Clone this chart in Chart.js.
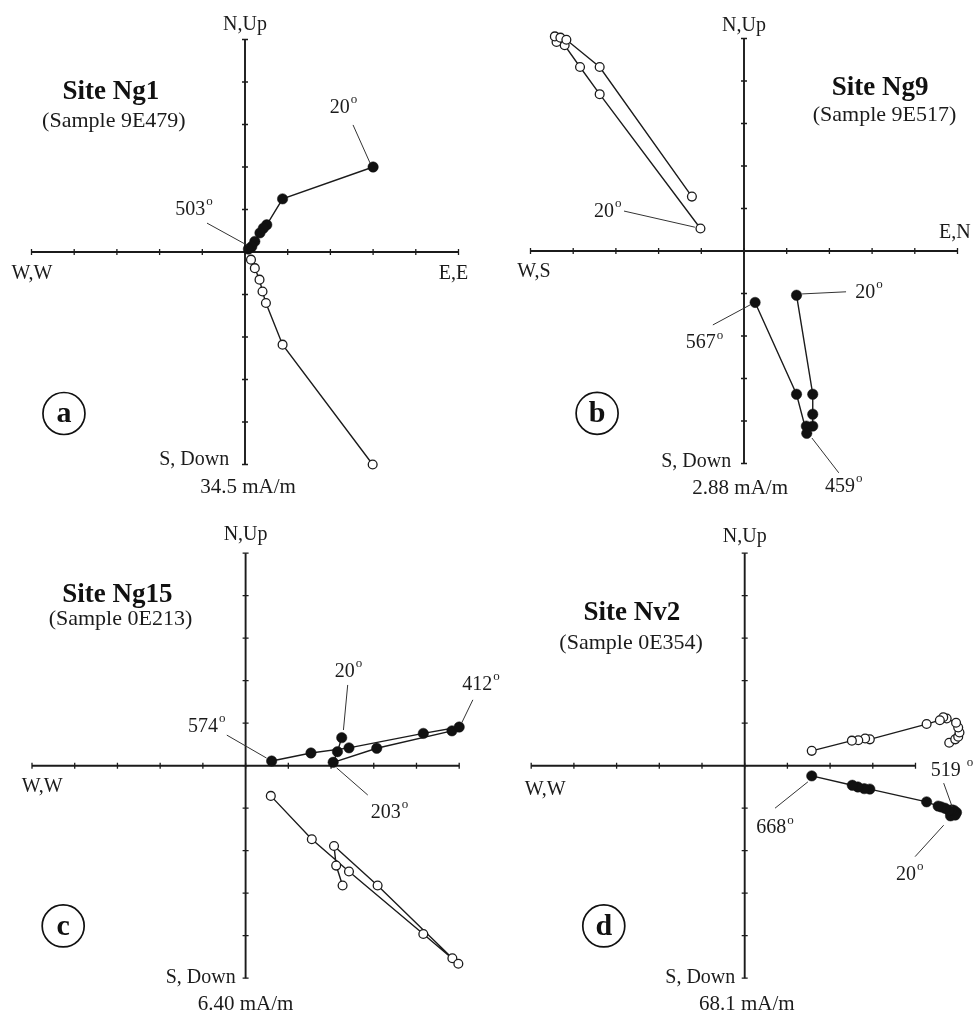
<!DOCTYPE html>
<html>
<head>
<meta charset="utf-8">
<script src="https://cdn.jsdelivr.net/npm/chart.js@4/dist/chart.umd.min.js"></script>
<style>
  body { margin: 0; background: #fff; }
  #wrap { position: relative; width: 974px; height: 1013px; }
  canvas { position: absolute; left: 0; top: 0; }
</style>
</head>
<body>
<div id="wrap">
  <canvas id="chartA" width="974" height="1013"></canvas>
  <canvas id="chartB" width="974" height="1013"></canvas>
  <canvas id="chartC" width="974" height="1013"></canvas>
  <canvas id="chartD" width="974" height="1013"></canvas>
</div>
<script>
// values in axis-tick units (one tick = the mA/m value printed under each plot)
// filled = horizontal projection, open = vertical projection

// a) Site Ng1
const ng1Horizontal = [[3.0, 2.0], [0.88, 1.25], [0.51, 0.64], [0.43, 0.56], [0.35, 0.45], [0.23, 0.25], [0.16, 0.13], [0.08, 0.07]];
const ng1Vertical = [[2.99, -5.0], [0.88, -2.18], [0.49, -1.2], [0.41, -0.93], [0.34, -0.65], [0.23, -0.38], [0.14, -0.18]];

// b) Site Ng9
const ng9Horizontal = [[1.23, -1.04], [1.61, -3.37], [1.61, -3.84], [1.61, -4.12], [1.46, -4.12], [1.47, -4.29], [1.23, -3.37], [0.26, -1.21]];
const ng9Vertical = [[-1.02, 0.53], [-3.38, 3.69], [-3.84, 4.33], [-4.2, 4.84], [-4.39, 4.92], [-4.43, 5.05], [-4.3, 5.02], [-4.16, 4.97], [-3.38, 4.33], [-1.22, 1.28]];

// c) Site Ng15
const ng15Horizontal = [[2.25, 0.66], [2.15, 0.33], [2.05, 0.08], [3.07, 0.41], [4.83, 0.82], [5.0, 0.91], [4.16, 0.76], [2.42, 0.42], [1.53, 0.30], [0.61, 0.11]];
const ng15Vertical = [[2.27, -2.82], [2.12, -2.35], [2.07, -1.89], [3.09, -2.82], [4.84, -4.53], [4.98, -4.66], [4.16, -3.96], [2.42, -2.49], [1.55, -1.73], [0.59, -0.71]];

// d) Site Nv2
const nv2Horizontal = [[4.82, -1.18], [4.93, -1.16], [4.96, -1.1], [4.9, -1.05], [4.85, -1.04], [4.78, -1.05], [4.69, -1.0], [4.6, -0.97], [4.53, -0.95], [4.26, -0.85], [2.93, -0.55], [2.8, -0.54], [2.65, -0.5], [2.52, -0.46], [1.57, -0.24]];
const nv2Vertical = [[4.79, 0.54], [4.93, 0.62], [5.0, 0.68], [5.03, 0.78], [5.0, 0.9], [4.95, 1.01], [4.73, 1.11], [4.65, 1.14], [4.57, 1.07], [4.26, 0.98], [2.93, 0.62], [2.82, 0.64], [2.66, 0.6], [2.51, 0.59], [1.57, 0.35]];

const ink = '#1b1b1b';
const serif = '"Liberation Serif", "DejaVu Serif", serif';

function toPt(arr) {
  return arr.map(p => ({ x: p[0], y: p[1] }));
}

function degLabel(ctx, x, y, num, gap) {
  ctx.font = '20px ' + serif;
  ctx.textAlign = 'center';
  ctx.textBaseline = 'middle';
  const w = ctx.measureText(num).width;
  ctx.fillText(num, x, y);
  ctx.font = '13px ' + serif;
  ctx.textAlign = 'left';
  ctx.fillText('o', x + w / 2 + 1 + (gap || 0), y - 8);
}

// draws the cross axes, labels, leader lines
const zijderveld = {
  id: 'zijderveld',
  beforeDatasetsDraw(chart, args, o) {
    const ctx = chart.ctx;
    const px = v => chart.scales.x.getPixelForValue(v);
    const py = v => chart.scales.y.getPixelForValue(v);
    const e = o.ext;
    ctx.save();
    ctx.strokeStyle = ink;
    ctx.lineWidth = 1.9;
    ctx.beginPath();
    ctx.moveTo(px(e[0]), py(0)); ctx.lineTo(px(e[1]), py(0));
    ctx.moveTo(px(0), py(e[2])); ctx.lineTo(px(0), py(e[3]));
    ctx.stroke();
    ctx.lineWidth = 1.3;
    ctx.beginPath();
    for (let i = e[0]; i <= e[1]; i++) {
      ctx.moveTo(px(i), py(0) - 3); ctx.lineTo(px(i), py(0) + 3);
    }
    for (let j = e[2]; j <= e[3]; j++) {
      ctx.moveTo(px(0) - 3, py(j)); ctx.lineTo(px(0) + 3, py(j));
    }
    ctx.stroke();
    ctx.restore();
  },
  afterDatasetsDraw(chart, args, o) {
    const ctx = chart.ctx;
    const px = v => chart.scales.x.getPixelForValue(v);
    const py = v => chart.scales.y.getPixelForValue(v);
    ctx.save();
    ctx.fillStyle = ink;
    ctx.textAlign = 'center';
    ctx.textBaseline = 'middle';

    ctx.font = '20px ' + serif;
    o.axisText.forEach(t => ctx.fillText(t[0], px(t[1]), py(t[2])));
    ctx.font = '21px ' + serif;
    ctx.fillText(o.unit[0], px(o.unit[1]), py(o.unit[2]));

    ctx.font = 'bold 27px ' + serif;
    ctx.fillStyle = '#111';
    ctx.fillText(o.title[0], px(o.title[1]), py(o.title[2]));
    ctx.font = '22px ' + serif;
    ctx.fillStyle = ink;
    ctx.fillText(o.sample[0], px(o.sample[1]), py(o.sample[2]));

    // panel letter in circle
    const lx = px(o.letter[1]), ly = py(o.letter[2]);
    ctx.lineWidth = 1.7;
    ctx.strokeStyle = '#111';
    ctx.beginPath();
    ctx.arc(lx, ly, 21, 0, Math.PI * 2);
    ctx.stroke();
    ctx.font = 'bold 30px ' + serif;
    ctx.fillStyle = '#111';
    ctx.fillText(o.letter[0], lx, ly + 1);

    // leader lines
    ctx.strokeStyle = '#333';
    ctx.lineWidth = 1;
    ctx.beginPath();
    o.leaders.forEach(l => {
      ctx.moveTo(px(l[0]), py(l[1]));
      ctx.lineTo(px(l[2]), py(l[3]));
    });
    ctx.stroke();

    ctx.fillStyle = ink;
    o.steps.forEach(s => degLabel(ctx, px(s[1]), py(s[2]), s[0], s[3]));
    ctx.restore();
  }
};

function makePanel(id, horiz, vert, pad, deco) {
  return new Chart(document.getElementById(id), {
    type: 'scatter',
    data: {
      datasets: [
        {
          data: toPt(vert),
          showLine: true,
          clip: false,
          borderColor: ink,
          borderWidth: 1.4,
          pointRadius: 4.4,
          pointBackgroundColor: '#fff',
          pointBorderColor: ink,
          pointBorderWidth: 1.3
        },
        {
          data: toPt(horiz),
          showLine: true,
          clip: false,
          borderColor: ink,
          borderWidth: 1.4,
          pointRadius: 5.2,
          pointBackgroundColor: '#111',
          pointBorderColor: '#111',
          pointBorderWidth: 0.5
        }
      ]
    },
    options: {
      responsive: false,
      animation: false,
      layout: { padding: pad },
      scales: {
        x: { type: 'linear', min: -5, max: 5, display: false },
        y: { type: 'linear', min: -5, max: 5, display: false }
      },
      plugins: {
        legend: { display: false },
        tooltip: { enabled: false },
        zijderveld: deco
      }
    },
    plugins: [zijderveld]
  });
}

makePanel('chartA', ng1Horizontal, ng1Vertical,
  { left: 31.5, right: 515.5, top: 39.5, bottom: 548.5 },
  {
    ext: [-5, 5, -5, 5],
    axisText: [['N,Up', 0, 5.34], ['W,W', -4.99, -0.5], ['E,E', 4.88, -0.5], ['S, Down', -1.19, -4.89]],
    unit: ['34.5 mA/m', 0.07, -5.53],
    title: ['Site Ng1', -3.14, 3.76],
    sample: ['(Sample 9E479)', -3.07, 3.08],
    letter: ['a', -4.24, -3.8],
    steps: [['20', 2.22, 3.39], ['503', -1.28, 0.99]],
    leaders: [[2.53, 2.99, 2.93, 2.09], [-0.89, 0.68, 0.05, 0.16]]
  });

makePanel('chartB', ng9Horizontal, ng9Vertical,
  { left: 530.5, right: 16.5, top: 38.5, bottom: 549.5 },
  {
    ext: [-5, 5, -5, 5],
    axisText: [['N,Up', 0, 5.29], ['E,N', 4.94, 0.42], ['W,S', -4.92, -0.49], ['S, Down', -1.12, -4.96]],
    unit: ['2.88 mA/m', -0.09, -5.58],
    title: ['Site Ng9', 3.19, 3.83],
    sample: ['(Sample 9E517)', 3.29, 3.2],
    letter: ['b', -3.44, -3.82],
    steps: [['20', -3.28, 0.92], ['20', 2.84, -0.98], ['567', -1.01, -2.17], ['459', 2.25, -5.55]],
    leaders: [[-2.81, 0.94, -1.15, 0.56], [1.36, -1.01, 2.39, -0.96], [-0.73, -1.74, 0.14, -1.27], [1.59, -4.4, 2.22, -5.22]]
  });

makePanel('chartC', ng15Horizontal, ng15Vertical,
  { left: 32, right: 514.8, top: 553.2, bottom: 34.8 },
  {
    ext: [-5, 5, -5, 5],
    axisText: [['N,Up', 0, 5.43], ['W,W', -4.76, -0.49], ['S, Down', -1.05, -5.0]],
    unit: ['6.40 mA/m', 0, -5.63],
    title: ['Site Ng15', -3.0, 4.02],
    sample: ['(Sample 0E213)', -2.93, 3.45],
    letter: ['c', -4.27, -3.77],
    steps: [['20', 2.32, 2.22], ['412', 5.42, 1.9], ['574', -1.0, 0.91], ['203', 3.28, -1.11]],
    leaders: [[2.39, 1.9, 2.29, 0.84], [5.32, 1.55, 5.06, 1.01], [-0.44, 0.72, 0.49, 0.18], [2.86, -0.69, 2.13, -0.05]]
  });

makePanel('chartD', nv2Horizontal, nv2Vertical,
  { left: 531.2, right: 15.8, top: 553.2, bottom: 34.8 },
  {
    ext: [-5, 4, -5, 5],
    axisText: [['N,Up', 0, 5.38], ['W,W', -4.67, -0.57], ['S, Down', -1.04, -5.0]],
    unit: ['68.1 mA/m', 0.05, -5.63],
    title: ['Site Nv2', -2.64, 3.59],
    sample: ['(Sample 0E354)', -2.66, 2.89],
    letter: ['d', -3.3, -3.77],
    steps: [['519', 4.71, -0.12, 5], ['668', 0.62, -1.47], ['20', 3.78, -2.57]],
    leaders: [[4.66, -0.41, 4.86, -0.97], [0.71, -1.0, 1.48, -0.38], [3.99, -2.14, 4.66, -1.4]]
  });
</script>
</body>
</html>
